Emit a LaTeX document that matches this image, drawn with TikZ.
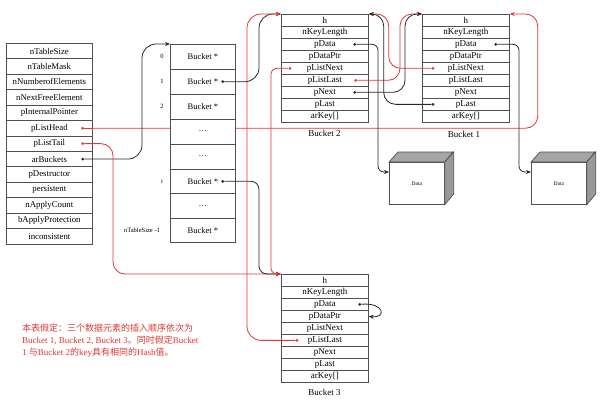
\documentclass[tikz,border=0pt]{standalone}
\usepackage{fontspec}
\setmainfont{Liberation Serif}
\newfontfamily\cjk{Noto Sans CJK SC}
\usetikzlibrary{arrows.meta,calc,backgrounds}
\definecolor{myred}{RGB}{225,55,55}
\definecolor{boxline}{RGB}{80,80,80}
\definecolor{ptrblack}{RGB}{40,40,40}
\begin{document}
\begin{tikzpicture}[x=1pt,y=-1pt,
  hrow/.style={draw=boxline, fill=white, line width=0.7pt, minimum width=86pt, minimum height=15.43pt, inner sep=0pt, anchor=north west, font=\fontsize{8.8}{10}\selectfont},
  arow/.style={draw=boxline, fill=white, line width=0.7pt, minimum width=65pt, minimum height=24.9pt, inner sep=0pt, anchor=north west, font=\fontsize{8.5}{10}\selectfont},
  brow/.style={draw=boxline, fill=white, line width=0.7pt, minimum width=87pt, minimum height=12pt, inner sep=0pt, anchor=north west, font=\fontsize{9}{10}\selectfont},
  idx/.style={font=\fontsize{6.5}{8}\selectfont, inner sep=0pt},
  blab/.style={font=\fontsize{9}{10}\selectfont, inner sep=0pt},
  dot/.style={circle, fill, inner sep=0pt, minimum size=3pt},
  rptr/.style={draw=myred, line width=0.8pt, -{Stealth[length=5pt,width=4pt]}},
  bptr/.style={draw=ptrblack, line width=0.8pt, -{Stealth[length=5pt,width=4pt]}},
  datafront/.style={draw=boxline, fill=white, line width=0.7pt, minimum width=55pt, minimum height=42pt, inner sep=0pt, anchor=north west, font=\fontsize{5.5}{6}\selectfont},
  cubeside/.style={draw=boxline, fill=gray!70, line width=0.7pt},
]
\useasboundingbox (0,0) rectangle (600,404);

% HashTable struct
\foreach \t [count=\i from 0] in {nTableSize,nTableMask,nNumberofElements,nNextFreeElement,pInternalPointer,pListHead,pListTail,arBuckets,pDestructor,persistent,nApplyCount,bApplyProtection,inconsistent}
  \node[hrow] (h\i) at (6,{43+15.43*\i}) {\t};

% bucket array
\node[arow] (a0) at (170,44) {Bucket *};
\node[arow] (a1) at (170,{44+24.9}) {Bucket *};
\node[arow] (a2) at (170,{44+24.9*2}) {Bucket *};
\node[arow] (a3) at (170,{44+24.9*3}) {\ldots};
\node[arow] (a4) at (170,{44+24.9*4}) {\ldots};
\node[arow] (a5) at (170,{44+24.9*5}) {Bucket *};
\node[arow] (a6) at (170,{44+24.9*6}) {\ldots};
\node[arow, minimum height=24pt] (a7) at (170,{44+24.9*7}) {Bucket *};
\node[idx] (i0) at ([xshift=-8pt]a0.west) {0};
\node[idx] (i1) at ([xshift=-8pt]a1.west) {1};
\node[idx] (i2) at ([xshift=-8pt]a2.west) {2};
\node[idx] (i5) at ([xshift=-8pt]a5.west) {i};
\node[idx] (i7) at ([xshift=-28pt]a7.west) {nTableSize -1};

% buckets
\foreach \t [count=\i from 0] in {h,nKeyLength,pData,pDataPtr,pListNext,pListLast,pNext,pLast,{arKey[]}}
{
  \node[brow] (b2r\i) at (281,{14+12*\i}) {\t};
  \node[brow] (b1r\i) at (422,{14+12*\i}) {\t};
  \node[brow] (b3r\i) at (281,{274+12*\i}) {\t};
}
\node[blab] (l2) at (324.5,133) {Bucket 2};
\node[blab] (l1) at (464,134) {Bucket 1};
\node[blab] (l3) at (324.5,392) {Bucket 3};

% data cubes
\node[datafront] (data1) at (389,162) {Data};
\node[datafront] (data2) at (531,162) {Data};
\foreach \d in {data1,data2}{
  \draw[cubeside] (\d.north west) -- ++(9,-10) -- ++(55,0) -- (\d.north east) -- cycle;
  \draw[cubeside, fill=gray!80] (\d.north east) -- ++(9,-10) -- ++(0,42) -- (\d.south east) -- cycle;
}
\coordinate (d1in) at ($(data1.north west)+(0,10)$);
\coordinate (d2in) at ($(data2.north west)+(0,10)$);

% pointer dots
\node[dot, myred] (dHead) at ([xshift=-10pt]h5.east) {};
\node[dot, myred] (dTail) at ([xshift=-10pt]h6.east) {};
\node[dot, ptrblack] (dArb) at ([xshift=-10pt]h7.east) {};
\node[dot, ptrblack] (dA1) at ([xshift=-13pt]a1.east) {};
\node[dot, ptrblack] (dAi) at ([xshift=-13pt]a5.east) {};
\node[dot, ptrblack] (dB2d) at ([xshift=-14pt]b2r2.east) {};
\node[dot, myred] (dB2ln) at ([xshift=9pt]b2r4.west) {};
\node[dot, myred] (dB2ll) at ([xshift=-13pt]b2r5.east) {};
\node[dot, ptrblack] (dB2n) at ([xshift=-14pt]b2r6.east) {};
\node[dot, ptrblack] (dB1d) at ([xshift=-14pt]b1r2.east) {};
\node[dot, myred] (dB1ln) at ([xshift=11pt]b1r4.west) {};
\node[dot, ptrblack] (dB1l) at ([xshift=11pt]b1r7.west) {};
\node[dot, ptrblack] (dB3d) at ([xshift=-9pt]b3r2.east) {};
\node[dot, myred] (dB3ll) at ([xshift=16pt]b3r5.west) {};

% pListHead (behind the array)
\begin{scope}[on background layer]
\fill[white] (0,0) rectangle (600,404);
\draw[rptr, rounded corners=12pt] (dHead) -| ($(b1r0.north east)+(28,0)$) -- (b1r0.north east);
\end{scope}
\draw[myred, line width=0.8pt] (dHead) -- (dHead -| h5.east);

% connectors
\draw[bptr, rounded corners=14pt] (dArb) -| ($(a0.north west)+(-28,0)$) -- (a0.north west);
\draw[rptr, rounded corners=12pt] (dTail) -| ($(b3r0.north west)+(-168,0)$) -- (b3r0.north west);
\draw[bptr, rounded corners=14pt] (dA1) -| ($(b2r0.north west)+(-22,0)$) -- (b2r0.north west);
\draw[bptr, rounded corners=8pt] (dAi) -| ($(b3r0.north west)+(-22,0)$) -- (b3r0.north west);
\draw[rptr, rounded corners=14pt] (dB3ll) -| ($(b2r0.north west)+(-34,0)$) -- (b2r0.north west);
\draw[rptr, rounded corners=6pt] (dB2ln) -| ($(b3r0.north west)+(-10,0)$) -- (b3r0.north west);
\draw[bptr, rounded corners=6pt] (dB2d) -| ($(d1in)+(-11,0)$) -- (d1in);
\draw[bptr, rounded corners=6pt] (dB1d) -| ($(d2in)+(-12,0)$) -- (d2in);
\draw[rptr, rounded corners=12pt] (dB1ln) -| ($(b2r0.north east)+(20,0)$) -- (b2r0.north east);
\draw[rptr, rounded corners=12pt] (dB2ll) -| ($(b1r0.north west)+(-22,0)$) -- (b1r0.north west);
\draw[bptr, rounded corners=12pt] (dB2n) -| ($(b1r0.north west)+(-17,0)$) -- (b1r0.north west);
\draw[bptr, rounded corners=12pt] (dB1l) -| ($(b2r0.north east)+(15,0)$) -- (b2r0.north east);
\draw[bptr] (dB3d) .. controls +(25,-2) and +(18,2) .. (b3r3.east);

% note
\node[anchor=north west, align=left, text=myred, inner sep=0pt, font=\fontsize{9}{12}\selectfont] (note) at (22,324)
 {{\cjk 本表假定：三个数据元素的插入顺序依次为}\\
  Bucket 1, Bucket 2, Bucket 3{\cjk 。同时假定}Bucket\\
  1 {\cjk 与}Bucket 2{\cjk 的}key{\cjk 具有相同的}Hash{\cjk 值。}};
\end{tikzpicture}
\end{document}
